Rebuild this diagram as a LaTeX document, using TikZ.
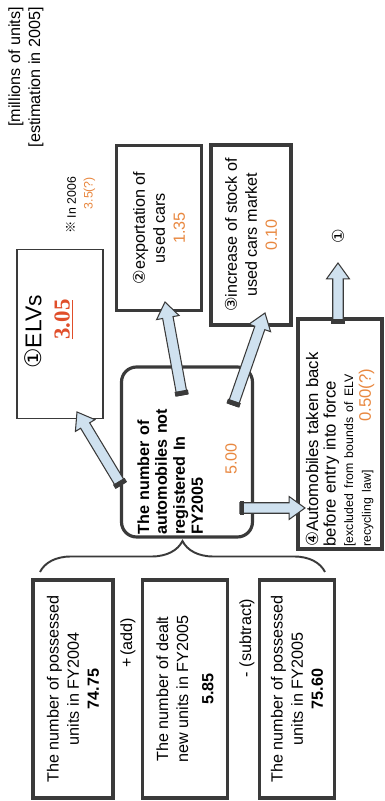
\documentclass[tikz,border=0pt]{standalone}
\usepackage{fontspec}
\setmainfont{Liberation Sans}
\newfontfamily\symfont{DejaVu Sans}
\newfontfamily\cjkfont{Noto Sans CJK JP}
\newfontfamily\serfont{Liberation Serif}
\usetikzlibrary{calc,decorations.pathreplacing}

\definecolor{edge}{HTML}{3A3A3A}
\definecolor{tube}{HTML}{CFE1EF}
\definecolor{amber}{HTML}{E8873F}
\definecolor{rust}{HTML}{E04E2A}

\newcommand{\circd}[1]{{\symfont #1}}

\begin{document}
\begin{tikzpicture}[
		every node/.style={font=\fontsize{9.2}{11.4}\selectfont, inner sep=1pt},
		heavybox/.style={draw=edge, line width=1.8pt, align=center},
		plainbox/.style={draw=edge, line width=0.7pt, align=center},
		roundbox/.style={draw=edge, line width=1.8pt, rounded corners=0.3cm},
		fatarrow/.style={draw=edge, line width=0.6pt, fill=tube, to path={
			($(\tikztotarget)!9pt!(\tikztostart)$) coordinate (fh)
			($(\tikztostart)!3pt!90:(\tikztotarget)$) -- ($(fh)!3pt!90:(\tikztotarget)$)
			-- ($(fh)!6.5pt!90:(\tikztotarget)$) -- (\tikztotarget)
			-- ($(fh)!6.5pt!-90:(\tikztotarget)$) -- ($(fh)!3pt!-90:(\tikztotarget)$)
			-- ($(\tikztostart)!3pt!-90:(\tikztotarget)$) -- cycle}},
		tubeend/.style={draw=edge, line width=0.5pt, fill=edge, to path={
			($(\tikztostart)!2.2pt!(\tikztotarget)$) coordinate (fb)
			($(\tikztostart)!3.6pt!90:(\tikztotarget)$) -- ($(fb)!3.6pt!90:(\tikztotarget)$)
			-- ($(fb)!3.6pt!-90:(\tikztotarget)$) -- ($(\tikztostart)!3.6pt!-90:(\tikztotarget)$) -- cycle}},
	]
	\begin{scope}[rotate=90, transform shape, x=0.02cm, y=0.02cm]
		\useasboundingbox (0,0) rectangle (801,385);

		\node[anchor=east, align=right] (unit) at (796,359) {[millions of units]\\{[estimation in 2005]}};

		\node[heavybox, minimum width=4.36cm, minimum height=1.6cm] (own04) at (112,312) {The number of possessed\\units in FY2004\\\textbf{74.75}};
		\node (add) at (158,257) {+\,(add)};
		\node[heavybox, minimum width=4.36cm, minimum height=1.7cm] (deal05) at (112,200) {The number of dealt\\new units in FY2005\\[3pt]\textbf{5.85}};
		\node (sub) at (163,138) {- (subtract)};
		\node[heavybox, minimum width=4.36cm, minimum height=1.5cm] (own05) at (112,88) {The number of possessed\\units in FY2005\\\textbf{75.60}};

		\draw[edge, line width=1.1pt, decorate, decoration={brace, amplitude=0.62cm}] (229,345) -- (229,60);

		\node[roundbox, minimum width=3.4cm, minimum height=2.62cm, text width=3.3cm, align=left, font=\bfseries\fontsize{9.2}{10.2}\selectfont] (reg) at (349,198) {The number of\\automobiles not\\registered In\\FY2005\\[9pt]\hspace*{1.2cm}{\mdseries\color{amber}5.00}};

		\node[plainbox, minimum width=3.38cm, minimum height=1.72cm] (elv) at (467,325) {};
		\node[align=center, font=\fontsize{13}{16}\selectfont] (elvtxt) at (469,336) {\circd{①}ELVs\\\hspace*{0.5cm}{\serfont\bfseries\color{rust}\underline{3.05}}};
		\node[anchor=east, align=right, font=\fontsize{7}{9.5}\selectfont] (note) at (626,304) {{\cjkfont ※} In 2006\\{\color{amber}3.5(?)}};

		\node[heavybox, minimum width=3.3cm, minimum height=1.7cm] (exp) at (573,226) {\circd{②}exportation of\\used cars\\{\color{amber}1.35}};
		\node[heavybox, minimum width=3.6cm, minimum height=1.6cm] (stk) at (566,134) {\circd{③}increase of stock of\\used cars market\\{\color{amber}0.10}};

		\node[heavybox, minimum width=4.6cm, minimum height=1.68cm, text width=4.5cm, align=left, font=\fontsize{9.5}{10}\selectfont] (back) at (367,45) {\circd{④}Automobiles taken back\\before entry into force\\{\fontsize{7}{8.5}\selectfont [excluded from bounds of ELV}\\\makebox[2.5cm][l]{\fontsize{7}{8.5}\selectfont recycling law]}{\color{amber}0.50(?)}};

		\node (elvref) at (565,47) {\circd{①}};

		\coordinate (t1) at (316,264);
		\coordinate (h1) at (389,308);
		\coordinate (t2) at (406,203);
		\coordinate (h2) at (499,220);
		\coordinate (t3) at (396,152);
		\coordinate (h3) at (488,120);
		\coordinate (t4) at (293,145);
		\coordinate (h4) at (293,80);
		\coordinate (t5) at (478,47);
		\coordinate (h5) at (538,47);

		\draw[fatarrow] (t1) to (h1);
		\draw[tubeend] (t1) to (h1);
		\draw[fatarrow] (t2) to (h2);
		\draw[tubeend] (t2) to (h2);
		\draw[fatarrow] (t3) to (h3);
		\draw[tubeend] (t3) to (h3);
		\draw[fatarrow] (t4) to (h4);
		\draw[tubeend] (t4) to (h4);
		\draw[fatarrow] (t5) to (h5);
		\draw[tubeend] (t5) to (h5);
	\end{scope}
\end{tikzpicture}
\end{document}
